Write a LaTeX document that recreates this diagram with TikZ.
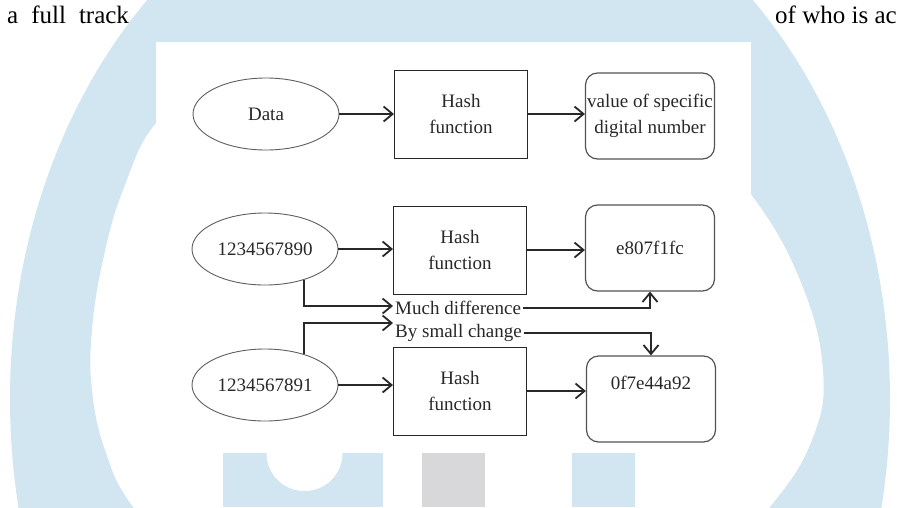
\documentclass[tikz,border=0pt]{standalone}
\usepackage{fontspec}
\setmainfont{Liberation Serif}
\usetikzlibrary{arrows.meta,positioning,shapes.geometric}
\definecolor{wmblue}{RGB}{210,230,241}
\definecolor{wmgrey}{RGB}{216,216,219}
\definecolor{ink}{RGB}{40,40,40}

\begin{document}
\begin{tikzpicture}[
  x=1pt, y=-1pt,
  txt/.style={font=\fontsize{19}{26}\selectfont,text=ink,align=center},
  oval/.style={draw=ink!75,line width=0.9pt,ellipse,minimum width=146pt,
               minimum height=72pt,inner sep=0pt,txt},
  hbox/.style={draw=ink,line width=1pt,minimum width=133pt,
               minimum height=88pt,inner sep=0pt,txt},
  rbox/.style={draw=ink!80,line width=1.2pt,rounded corners=12pt,
               minimum width=129pt,minimum height=86pt,inner sep=0pt,txt},
  arr/.style={-{Straight Barb[length=9pt,width=15pt]},line width=1.8pt,draw=ink}
]
\useasboundingbox (0,0) rectangle (897,507);

% watermark behind the figure
\fill[wmblue,even odd rule] (450,399) ellipse [x radius=440pt, y radius=550pt]
  plot[smooth cycle,tension=0.7] coordinates {(300,75) (520,75) (680,120) (750,193)
    (800,280) (823,370) (812,440) (770,507) (700,580) (450,620) (200,580) (133,507)
    (105,450) (92,390) (92,330) (103,260) (123,190) (156,123) (210,88)};
\fill[wmblue] (223,453) rectangle (383,507);
\fill[white] (266.5,453) arc[start angle=180,end angle=360,radius=38pt] -- cycle;
\fill[wmgrey] (422,453) rectangle (485,507);
\fill[wmblue] (572,453) rectangle (635,507);
\fill[white] (156,42) rectangle (751,453);

% running text of the page
\node[anchor=base west,inner sep=0pt,text=black,font=\fontsize{25}{30}\selectfont]
  (lefttxt) at (7,23) {a\hspace{13pt}full\hspace{13pt}track};
\node[anchor=base west,inner sep=0pt,text=black,font=\fontsize{25}{30}\selectfont]
  (righttxt) at (775,23) {of who is ac};

% first row
\node[oval] (data)  at (266,114) {Data};
\node[hbox] (hash1) at (461,114) {Hash\\function};
\node[rbox] (value) at (650,116) {value of specific\\digital number};

% second row
\node[oval] (in1)   at (265,249) {1234567890};
\node[hbox] (hash2) at (460,250) {Hash\\function};
\node[rbox] (out1)  at (650,248) {e807f1fc};

% third row
\node[oval] (in2)   at (265,385) {1234567891};
\node[hbox] (hash3) at (460,391) {Hash\\function};
\node[rbox,label={[txt,yshift=16pt]center:0f7e44a92}] (out2) at (651,399) {};

\node[txt,anchor=west,inner sep=2pt] (much)  at (393,308) {Much difference};
\node[txt,anchor=west,inner sep=2pt] (small) at (393,333) {By small change};

\draw[arr] (data) -- (hash1);
\draw[arr] (hash1.east) -- (hash1.east -| value.west);
\draw[arr] (in1.east) -- (in1.east -| hash2.west);
\draw[arr] (hash2.east) -- (hash2.east -| out1.west);
\draw[arr] (in2.east) -- (in2.east -| hash3.west);
\draw[arr] (hash3.east) -- (hash3.east -| out2.west);

\draw[arr] (in1.-38) |- ([yshift=2pt]much.west);
\draw[arr] (much.east) -| (out1.south);
\draw[arr] (in2.38) |- ([yshift=10pt]small.west);
\draw[arr] (small.east) -| (out2.north);
\end{tikzpicture}
\end{document}
